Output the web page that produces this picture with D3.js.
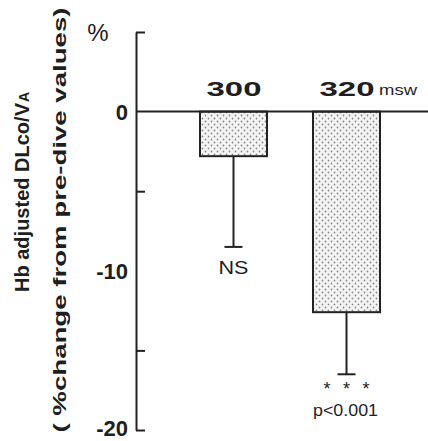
<html lang="en">
<head>
	<title>Hb adjusted DLco/VA</title>
	<script src="https://d3js.org/d3.v7.min.js" charset="utf-8"></script>
	<style>
		body { margin: 0; background: #fff; }
		text { font-family: "Liberation Sans", Arial, sans-serif; fill: #1e1e1e; }
	</style>
</head>
<body>
	<script>
	// depths (msw), mean % change, lower SD, and significance labels
	var depths = ["300", "320"];
	var means = [-2.8, -12.6];
	var errLow = [-8.5, -16.5];
	var sigLabels = ["NS", "p<0.001"];
	var yTicks = [0, -10, -20];
	var yMinorTicks = [5, -5, -15, -20];

	var w = 428, h = 441;

	var svg = d3.select("body").append("svg")
		.attr("width", w)
		.attr("height", h);

	// stipple fill for bars
	var pat = svg.append("defs").append("pattern")
		.attr("id", "dots")
		.attr("patternUnits", "userSpaceOnUse")
		.attr("width", 6).attr("height", 6);
	pat.append("rect").attr("width", 6).attr("height", 6).attr("fill", "#f4f4f4");
	pat.append("circle").attr("cx", 1.5).attr("cy", 1.5).attr("r", 0.9).attr("fill", "#8a8a8a");
	pat.append("circle").attr("cx", 4.5).attr("cy", 4.5).attr("r", 0.9).attr("fill", "#8a8a8a");

	var y = d3.scaleLinear().domain([5, -20]).range([32, 430]);
	var x = d3.scaleBand().domain(depths).range([200, 380]).paddingInner(0.407).paddingOuter(0);

	var axisX = 136;

	// bars
	svg.selectAll("rect.bar")
		.data(depths)
		.enter().append("rect")
		.attr("class", "bar")
		.attr("x", function(d) { return x(d); })
		.attr("y", y(0))
		.attr("width", x.bandwidth())
		.attr("height", function(d, i) { return y(means[i]) - y(0); })
		.attr("fill", "url(#dots)")
		.attr("stroke", "#222")
		.attr("stroke-width", 2);

	// error bars (downward only)
	var cx = function(d) { return x(d) + x.bandwidth() / 2; };
	svg.selectAll("line.err")
		.data(depths)
		.enter().append("line")
		.attr("x1", cx).attr("x2", cx)
		.attr("y1", function(d, i) { return y(means[i]); })
		.attr("y2", function(d, i) { return y(errLow[i]); })
		.attr("stroke", "#222").attr("stroke-width", 2);
	svg.selectAll("line.cap")
		.data(depths)
		.enter().append("line")
		.attr("x1", function(d) { return cx(d) - 9; })
		.attr("x2", function(d) { return cx(d) + 9; })
		.attr("y1", function(d, i) { return y(errLow[i]); })
		.attr("y2", function(d, i) { return y(errLow[i]); })
		.attr("stroke", "#222").attr("stroke-width", 2);

	// zero line
	svg.append("line")
		.attr("x1", axisX).attr("x2", w)
		.attr("y1", y(0)).attr("y2", y(0))
		.attr("stroke", "#222").attr("stroke-width", 2);

	// y axis with inward ticks
	var yAxis = d3.axisRight(y)
		.tickValues(yMinorTicks)
		.tickSize(9)
		.tickSizeOuter(0)
		.tickFormat("");
	var gy = svg.append("g")
		.attr("transform", "translate(" + axisX + ",0)")
		.call(yAxis);
	gy.select(".domain").attr("stroke", "#222").attr("stroke-width", 2);
	gy.selectAll(".tick line").attr("stroke", "#222").attr("stroke-width", 2);

	// tick labels
	svg.selectAll("text.ylab")
		.data(yTicks)
		.enter().append("text")
		.attr("x", 128)
		.attr("y", function(d) { return Math.min(y(d) + 8, 436); })
		.attr("text-anchor", "end")
		.attr("font-size", 22)
		.attr("font-weight", "bold")
		.text(function(d) { return d === 0 ? "0" : "-" + Math.abs(d); });

	svg.append("text")
		.attr("x", 98).attr("y", 41)
		.attr("text-anchor", "middle")
		.attr("font-size", 24)
		.text("%");

	// depth labels
	svg.selectAll("text.depth")
		.data(depths)
		.enter().append("text")
		.attr("x", function(d) { return cx(d) - 27; })
		.attr("y", 96)
		.attr("font-size", 21)
		.attr("font-weight", "bold")
		.attr("textLength", 55)
		.attr("lengthAdjust", "spacingAndGlyphs")
		.text(function(d) { return d; });
	svg.append("text")
		.attr("x", 379).attr("y", 95)
		.attr("font-size", 14)
		.attr("font-family", "'DejaVu Sans Condensed', sans-serif")
		.attr("textLength", 38)
		.attr("lengthAdjust", "spacingAndGlyphs")
		.text("msw");

	// significance labels
	svg.append("text")
		.attr("x", cx(depths[0])).attr("y", 274)
		.attr("text-anchor", "middle")
		.attr("font-size", 18)
		.attr("textLength", 30)
		.attr("lengthAdjust", "spacingAndGlyphs")
		.text(sigLabels[0]);
	svg.append("text")
		.attr("x", cx(depths[1])).attr("y", 395)
		.attr("text-anchor", "middle")
		.attr("font-size", 18)
		.attr("fill", "#555")
		.attr("textLength", 46)
		.attr("lengthAdjust", "spacing")
		.text("* * *");
	svg.append("text")
		.attr("x", cx(depths[1]) - 1).attr("y", 416)
		.attr("text-anchor", "middle")
		.attr("font-size", 16)
		.attr("font-family", "'DejaVu Sans Condensed', sans-serif")
		.attr("textLength", 65)
		.attr("lengthAdjust", "spacingAndGlyphs")
		.text(sigLabels[1]);

	// y axis title
	var t1 = svg.append("g")
		.attr("transform", "translate(29,292) rotate(-90)");
	t1.append("text")
		.attr("x", 0).attr("y", 0)
		.attr("font-size", 20)
		.attr("font-weight", "bold")
		.attr("textLength", 189)
		.attr("lengthAdjust", "spacingAndGlyphs")
		.text("Hb adjusted DLco/V");
	t1.append("text")
		.attr("x", 190).attr("y", 0)
		.attr("font-size", 14)
		.attr("font-weight", "bold")
		.text("A");

	svg.append("text")
		.attr("transform", "translate(66,220) rotate(-90)")
		.attr("text-anchor", "middle")
		.attr("font-size", 19)
		.attr("font-weight", "bold")
		.attr("textLength", 425)
		.attr("lengthAdjust", "spacingAndGlyphs")
		.text("( %change from pre-dive values)");
	</script>
</body>
</html>
